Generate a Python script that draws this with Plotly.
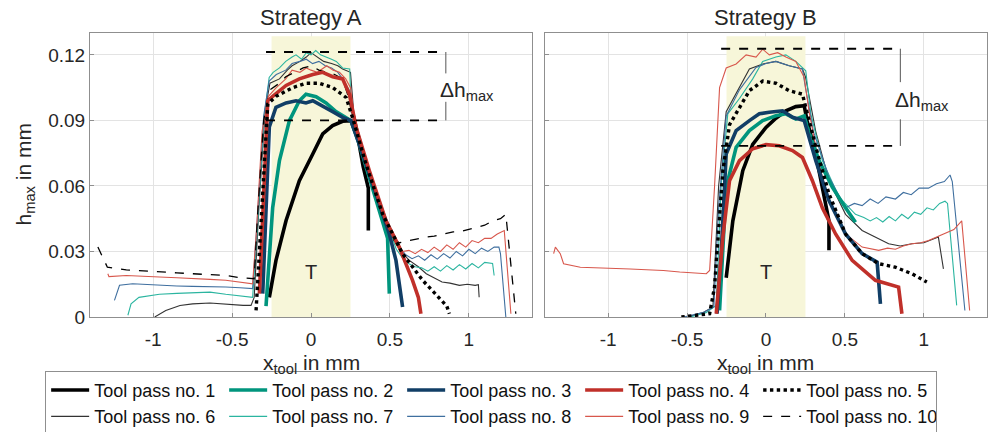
import plotly.graph_objects as go

# ---------------- Strategy A (left panel) ----------------
a1_x = [-0.264, -0.222, -0.158, -0.074, 0.011, 0.074, 0.137, 0.2, 0.253, 0.3, 0.33, 0.363, 0.363]
a1_y = [0.009, 0.0259, 0.0442, 0.0624, 0.0746, 0.0838, 0.0876, 0.0896, 0.0899, 0.081, 0.069, 0.059, 0.0396]

a2_x = [-0.285, -0.243, -0.2, -0.137, -0.074, -0.032, 0.032, 0.095, 0.158, 0.222, 0.253, 0.306, 0.39, 0.454, 0.485, 0.496]
a2_y = [0.005, 0.050, 0.0716, 0.0899, 0.099, 0.102, 0.1008, 0.098, 0.094, 0.091, 0.0899, 0.079, 0.059, 0.044, 0.036, 0.0107]

a3_x = [-0.306, -0.285, -0.264, -0.222, -0.158, -0.095, -0.032, 0.011, 0.074, 0.137, 0.2, 0.253, 0.327, 0.411, 0.496, 0.538, 0.58]
a3_y = [0.0107, 0.05, 0.087, 0.096, 0.098, 0.099, 0.098, 0.099, 0.0967, 0.094, 0.0914, 0.0899, 0.0746, 0.0564, 0.038, 0.0259, 0.0046]

a4_x = [-0.327, -0.3, -0.274, -0.243, -0.158, -0.074, 0.011, 0.074, 0.137, 0.2, 0.243, 0.285, 0.369, 0.475, 0.559, 0.643, 0.68, 0.696]
a4_y = [0.0107, 0.06, 0.099, 0.101, 0.106, 0.109, 0.111, 0.112, 0.110, 0.109, 0.102, 0.087, 0.067, 0.044, 0.032, 0.0168, 0.009, 0.0015]

a5_x = [-0.348, -0.31, -0.274, -0.222, -0.116, -0.032, 0.053, 0.137, 0.222, 0.264, 0.348, 0.454, 0.58, 0.707, 0.812, 0.86, 0.876]
a5_y = [0.003, 0.05, 0.0975, 0.101, 0.105, 0.107, 0.107, 0.105, 0.1005, 0.091, 0.070, 0.047, 0.029, 0.0168, 0.009, 0.005, 0.0015]

a6_x = [-0.99, -0.92, -0.83, -0.75, -0.64, -0.54, -0.43, -0.38, -0.36, -0.33, -0.29, -0.26, -0.2, -0.15, -0.12, -0.07,
        -0.03, 0.0, 0.04, 0.08, 0.13, 0.17, 0.2, 0.25, 0.27, 0.3, 0.35, 0.43, 0.5, 0.56, 0.62, 0.68, 0.73, 0.78, 0.83,
        0.88, 0.94, 0.99, 1.04, 1.06, 1.065]
a6_y = [0.0, 0.003, 0.0053, 0.006, 0.0064, 0.0058, 0.0053, 0.0053, 0.009, 0.05, 0.095, 0.107, 0.109, 0.113, 0.115, 0.117,
        0.119, 0.121, 0.119, 0.117, 0.116, 0.115, 0.1135, 0.112, 0.094, 0.085, 0.072, 0.052, 0.038, 0.031, 0.026, 0.023,
        0.0198, 0.018, 0.016, 0.0155, 0.0145, 0.0150, 0.0145, 0.0148, 0.009]

a7_x = [-1.16, -1.14, -1.09, -0.96, -0.85, -0.75, -0.64, -0.54, -0.45, -0.37, -0.34, -0.3, -0.265, -0.24, -0.2, -0.16,
        -0.12, -0.095, -0.06, -0.03, 0.0, 0.03, 0.06, 0.1, 0.13, 0.16, 0.2, 0.245, 0.255, 0.3, 0.35, 0.43, 0.5, 0.54,
        0.58, 0.62, 0.66, 0.7, 0.74, 0.78, 0.82, 0.86, 0.9, 0.94, 0.98, 1.02, 1.06, 1.1, 1.15, 1.16]
a7_y = [0.0008, 0.006, 0.009, 0.0104, 0.0108, 0.011, 0.0114, 0.0104, 0.0098, 0.009, 0.04, 0.09, 0.1097, 0.112, 0.114,
        0.117, 0.119, 0.120, 0.118, 0.121, 0.120, 0.122, 0.120, 0.119, 0.118, 0.117, 0.114, 0.1135, 0.094, 0.082, 0.072,
        0.054, 0.040, 0.031, 0.027, 0.0244, 0.023, 0.0225, 0.021, 0.023, 0.021, 0.0235, 0.0215, 0.024, 0.022, 0.0245,
        0.0225, 0.025, 0.0245, 0.019]

a8_x = [-1.245, -1.213, -1.13, -0.96, -0.85, -0.75, -0.64, -0.54, -0.45, -0.37, -0.34, -0.3, -0.265, -0.22, -0.16, -0.12,
        -0.07, -0.03, 0.01, 0.05, 0.09, 0.13, 0.17, 0.2, 0.24, 0.26, 0.3, 0.35, 0.43, 0.5, 0.56, 0.6, 0.64, 0.68, 0.72,
        0.76, 0.8, 0.84, 0.88, 0.92, 0.96, 1.0, 1.04, 1.08, 1.12, 1.16, 1.19, 1.2, 1.234]
a8_y = [0.0076, 0.0145, 0.0152, 0.0145, 0.0142, 0.014, 0.0140, 0.0137, 0.0134, 0.013, 0.045, 0.092, 0.108, 0.111, 0.113,
        0.116, 0.117, 0.118, 0.116, 0.117, 0.115, 0.114, 0.112, 0.109, 0.104, 0.094, 0.082, 0.072, 0.054, 0.041, 0.032,
        0.0285, 0.0267, 0.028, 0.026, 0.0285, 0.0265, 0.029, 0.027, 0.030, 0.028, 0.031, 0.029, 0.0315, 0.030, 0.032,
        0.032, 0.029, 0.0]

a9_x = [-1.287, -1.28, -1.17, -1.06, -0.96, -0.85, -0.75, -0.64, -0.54, -0.45, -0.37, -0.345, -0.31, -0.27, -0.22, -0.16,
        -0.12, -0.07, -0.03, 0.0, 0.04, 0.1, 0.14, 0.18, 0.22, 0.25, 0.27, 0.3, 0.35, 0.43, 0.5, 0.54, 0.58, 0.62, 0.66,
        0.7, 0.74, 0.78, 0.82, 0.86, 0.9, 0.94, 0.98, 1.02, 1.06, 1.1, 1.14, 1.18, 1.224, 1.266]
a9_y = [0.0198, 0.0185, 0.019, 0.0185, 0.0183, 0.018, 0.0175, 0.0172, 0.0168, 0.016, 0.0152, 0.04, 0.085, 0.101, 0.105,
        0.109, 0.113, 0.112, 0.114, 0.113, 0.112, 0.115, 0.113, 0.112, 0.109, 0.105, 0.094, 0.083, 0.072, 0.054, 0.040,
        0.033, 0.030, 0.0305, 0.029, 0.031, 0.0295, 0.032, 0.030, 0.033, 0.031, 0.034, 0.032, 0.035, 0.034, 0.036, 0.036,
        0.038, 0.0396, 0.0015]

a10_x = [-1.35, -1.33, -1.29, -1.17, -1.06, -0.96, -0.85, -0.75, -0.64, -0.54, -0.45, -0.36, -0.34, -0.3, -0.26, -0.2,
         -0.16, -0.1, -0.05, 0.0, 0.05, 0.1, 0.15, 0.2, 0.24, 0.26, 0.3, 0.35, 0.43, 0.5, 0.56, 0.62, 0.68, 0.73, 0.78,
         0.84, 0.9, 0.94, 1.0, 1.05, 1.1, 1.15, 1.2, 1.234, 1.297]
a10_y = [0.032, 0.029, 0.0228, 0.0216, 0.021, 0.0206, 0.0202, 0.0198, 0.0195, 0.019, 0.018, 0.0175, 0.045, 0.09, 0.104,
         0.107, 0.11, 0.112, 0.114, 0.115, 0.113, 0.112, 0.111, 0.109, 0.1, 0.092, 0.082, 0.072, 0.054, 0.036, 0.034,
         0.035, 0.036, 0.0366, 0.037, 0.038, 0.039, 0.039, 0.04, 0.041, 0.042, 0.044, 0.045, 0.047, 0.0015]

# ---------------- Strategy B (right panel) ----------------
b1_x = [-0.252, -0.21, -0.147, -0.084, 0.0, 0.063, 0.126, 0.189, 0.242, 0.26, 0.315, 0.357, 0.399, 0.399]
b1_y = [0.018, 0.044, 0.067, 0.079, 0.0868, 0.091, 0.0944, 0.0963, 0.0967, 0.09, 0.0746, 0.0594, 0.044, 0.0305]

b2_x = [-0.294, -0.252, -0.189, -0.105, -0.021, 0.063, 0.126, 0.189, 0.242, 0.27, 0.336, 0.42, 0.504, 0.567]
b2_y = [0.003, 0.0594, 0.0777, 0.0853, 0.0899, 0.0921, 0.093, 0.0906, 0.0921, 0.085, 0.0716, 0.0594, 0.050, 0.0434]

b3_x = [-0.31, -0.284, -0.252, -0.189, -0.105, -0.042, 0.021, 0.105, 0.168, 0.242, 0.315, 0.399, 0.504, 0.609, 0.704, 0.725]
b3_y = [0.0015, 0.029, 0.0746, 0.0853, 0.0899, 0.093, 0.0937, 0.0944, 0.0914, 0.0899, 0.0716, 0.0533, 0.038, 0.029, 0.0251, 0.006]

b4_x = [-0.315, -0.273, -0.231, -0.168, -0.084, 0.0, 0.084, 0.168, 0.231, 0.294, 0.357, 0.441, 0.546, 0.693, 0.84, 0.861]
b4_y = [0.0015, 0.0366, 0.0624, 0.0716, 0.077, 0.0789, 0.0784, 0.0762, 0.073, 0.0624, 0.050, 0.038, 0.0259, 0.0168, 0.0137, 0.0015]

b5_x = [-0.536, -0.441, -0.357, -0.326, -0.273, -0.231, -0.168, -0.105, -0.021, 0.063, 0.147, 0.231, 0.252, 0.315, 0.399,
        0.504, 0.609, 0.714, 0.819, 0.924, 1.019]
b5_y = [0.0, 0.0008, 0.0015, 0.0137, 0.067, 0.088, 0.096, 0.1036, 0.108, 0.107, 0.1036, 0.102, 0.096, 0.078, 0.0564,
        0.038, 0.029, 0.0244, 0.0228, 0.0198, 0.016]

b6_x = [-0.5, -0.4, -0.336, -0.3, -0.252, -0.168, -0.105, -0.021, 0.063, 0.147, 0.231, 0.25, 0.315, 0.399, 0.504, 0.609,
        0.777, 0.85, 0.924, 1.0, 1.092, 1.124]
b6_y = [0.0, 0.002, 0.0046, 0.06, 0.094, 0.105, 0.1135, 0.1158, 0.117, 0.115, 0.1135, 0.11, 0.085, 0.0624, 0.047, 0.0396,
        0.0335, 0.0325, 0.0335, 0.034, 0.0366, 0.022]

b7_x = [-0.48, -0.38, -0.315, -0.284, -0.242, -0.168, -0.084, -0.021, 0.063, 0.126, 0.189, 0.252, 0.284, 0.357, 0.462,
        0.567, 0.62, 0.66, 0.7, 0.74, 0.78, 0.82, 0.86, 0.9, 0.94, 0.98, 1.02, 1.06, 1.1, 1.134, 1.15, 1.208]
b7_y = [0.0, 0.002, 0.0053, 0.06, 0.093, 0.100, 0.109, 0.117, 0.119, 0.120, 0.117, 0.1127, 0.093, 0.0716, 0.055, 0.047,
        0.0455, 0.044, 0.0455, 0.0435, 0.046, 0.044, 0.047, 0.045, 0.048, 0.047, 0.05, 0.049, 0.052, 0.053, 0.052, 0.0053]

b8_x = [-0.52, -0.4, -0.33, -0.3, -0.252, -0.168, -0.063, 0.0, 0.063, 0.147, 0.231, 0.25, 0.3, 0.4, 0.504, 0.56, 0.609,
        0.66, 0.71, 0.76, 0.82, 0.87, 0.92, 0.97, 1.029, 1.08, 1.13, 1.166, 1.18, 1.26]
b8_y = [0.0, 0.002, 0.0046, 0.05, 0.092, 0.104, 0.1142, 0.116, 0.117, 0.115, 0.1135, 0.105, 0.085, 0.064, 0.050, 0.052,
        0.051, 0.054, 0.052, 0.055, 0.054, 0.057, 0.056, 0.059, 0.059, 0.061, 0.062, 0.065, 0.062, 0.003]

b9_x = [-1.345, -1.334, -1.303, -1.282, -1.176, -1.07, -0.966, -0.86, -0.756, -0.65, -0.546, -0.45, -0.378, -0.357,
        -0.326, -0.294, -0.252, -0.189, -0.126, -0.063, -0.021, 0.021, 0.074, 0.126, 0.189, 0.242, 0.273, 0.336, 0.399,
        0.504, 0.609, 0.714, 0.77, 0.82, 0.87, 0.924, 0.98, 1.03, 1.08, 1.134, 1.19, 1.24, 1.29]
b9_y = [0.029, 0.032, 0.029, 0.0244, 0.0228, 0.0226, 0.0225, 0.022, 0.0216, 0.0213, 0.0206, 0.020, 0.0198, 0.0213,
        0.0594, 0.105, 0.114, 0.1158, 0.120, 0.119, 0.1226, 0.120, 0.121, 0.119, 0.117, 0.1097, 0.094, 0.070, 0.053,
        0.038, 0.032, 0.0305, 0.0315, 0.031, 0.0325, 0.0335, 0.034, 0.035, 0.0365, 0.038, 0.040, 0.044, 0.003]

b10_x = []
b10_y = []

names = ["Tool pass no. %d" % i for i in range(1, 11)]
colors = ["#000000", "#00957d", "#113e66", "#c0302a", "#000000",
          "#333333", "#2bb5a0", "#3f6f9f", "#d8574c", "#000000"]
widths = [3.6, 3.6, 3.6, 3.6, 3.4, 1.1, 1.1, 1.1, 1.1, 1.3]
dashes = ["solid", "solid", "solid", "solid", "dot", "solid", "solid", "solid", "solid", "dash"]

A = [(a1_x, a1_y), (a2_x, a2_y), (a3_x, a3_y), (a4_x, a4_y), (a5_x, a5_y),
     (a6_x, a6_y), (a7_x, a7_y), (a8_x, a8_y), (a9_x, a9_y), (a10_x, a10_y)]
B = [(b1_x, b1_y), (b2_x, b2_y), (b3_x, b3_y), (b4_x, b4_y), (b5_x, b5_y),
     (b6_x, b6_y), (b7_x, b7_y), (b8_x, b8_y), (b9_x, b9_y), (b10_x, b10_y)]

fig = go.Figure()
draw_order = [5, 6, 7, 8, 9, 0, 1, 2, 3, 4]
for i in draw_order:
    fig.add_trace(go.Scatter(x=A[i][0], y=A[i][1], mode="lines", name=names[i], legendgroup=names[i],
                             legendrank=i + 1,
                             line=dict(color=colors[i], width=widths[i], dash=dashes[i]),
                             xaxis="x", yaxis="y"))
for i in draw_order:
    fig.add_trace(go.Scatter(x=B[i][0], y=B[i][1], mode="lines", name=names[i], legendgroup=names[i],
                             showlegend=False,
                             line=dict(color=colors[i], width=widths[i], dash=dashes[i]),
                             xaxis="x2", yaxis="y2"))

FONT = "Liberation Sans, Arial, sans-serif"
TXT = "#262626"
GRID = "#e3e3e3"
AXL = "#8f8f8f"

tickvals_x = [-1, -0.5, 0, 0.5, 1]
ticktext_x = ["-1", "-0.5", "0", "0.5", "1"]
tickvals_y = [0, 0.03, 0.06, 0.09, 0.12]
ticktext_y = ["0", "0.03", "0.06", "0.09", "0.12"]

xcommon = dict(range=[-1.4, 1.4], tickvals=tickvals_x, ticktext=ticktext_x, showgrid=True, gridcolor=GRID,
               showline=True, linecolor=AXL, mirror=True, ticks="inside", ticklen=4, tickcolor=AXL,
               zeroline=False, ticklabelstandoff=5, tickfont=dict(size=19, color=TXT, family=FONT))
ycommon = dict(range=[0, 0.13], tickvals=tickvals_y, showgrid=True, gridcolor=GRID,
               showline=True, linecolor=AXL, mirror=True, ticks="inside", ticklen=4, tickcolor=AXL,
               zeroline=False, tickfont=dict(size=19, color=TXT, family=FONT))

fig.update_layout(
    width=988, height=432,
    margin=dict(l=90, r=1, t=33, b=115, autoexpand=False),
    paper_bgcolor="white", plot_bgcolor="white",
    font=dict(family=FONT, color=TXT),
    xaxis=dict(domain=[0, 0.4928], anchor="y", **xcommon),
    yaxis=dict(domain=[0, 1], anchor="x", ticktext=ticktext_y, **ycommon),
    xaxis2=dict(domain=[0.5072, 1], anchor="y2", **xcommon),
    yaxis2=dict(domain=[0, 1], anchor="x2", showticklabels=False, **ycommon),
    legend=dict(orientation="h", x=-0.05, xanchor="left", y=-0.1895, yanchor="top",
                bordercolor="#8f8f8f", borderwidth=1, bgcolor="white",
                font=dict(size=18, color="#111111", family=FONT),
                entrywidth=125, entrywidthmode="pixels", itemwidth=38, traceorder="normal"),
    showlegend=True,
)

shapes = []
for xr, yr in (("x", "y"), ("x2", "y2")):
    shapes.append(dict(type="rect", xref=xr, yref=yr, x0=-0.25, x1=0.25, y0=0, y1=0.1285,
                       fillcolor="#f7f6d9", line=dict(width=0), layer="between"))

dh = [("x", "y", -0.285, 0.854, 0.1213, 0.090, 0.1115, 0.0985),
      ("x2", "y2", -0.284, 0.851, 0.1228, 0.0783, 0.1075, 0.0905)]
for xr, yr, xa, xb, ytop, ybot, gtop, gbot in dh:
    shapes.append(dict(type="line", xref=xr, yref=yr, x0=xa, x1=xb, y0=ytop, y1=ytop,
                       line=dict(color="black", width=1.8, dash="dash"), layer="above"))
    shapes.append(dict(type="line", xref=xr, yref=yr, x0=xa, x1=xb, y0=ybot, y1=ybot,
                       line=dict(color="black", width=1.8, dash="dash"), layer="above"))
    shapes.append(dict(type="line", xref=xr, yref=yr, x0=xb, x1=xb, y0=ytop, y1=gtop,
                       line=dict(color="#555555", width=1), layer="above"))
    shapes.append(dict(type="line", xref=xr, yref=yr, x0=xb, x1=xb, y0=gbot, y1=ybot,
                       line=dict(color="#555555", width=1), layer="above"))
fig.update_layout(shapes=shapes)

ann = []
for xr, t in (("x domain", "Strategy A"), ("x2 domain", "Strategy B")):
    ann.append(dict(text=t, xref=xr, yref="paper", x=0.5, y=1.054, showarrow=False,
                    font=dict(size=22, color=TXT), xanchor="center", yanchor="middle"))
    ann.append(dict(text="x<sub>tool</sub> in mm", xref=xr, yref="paper", x=0.5, y=-0.167, showarrow=False,
                    font=dict(size=21, color=TXT), xanchor="center", yanchor="middle"))
ann.append(dict(text="h<sub>max</sub> in mm", xref="paper", yref="paper", x=-0.073, y=0.5, showarrow=False,
                textangle=-90, font=dict(size=21, color=TXT), xanchor="center", yanchor="middle"))
for xr, yr in (("x", "y"), ("x2", "y2")):
    ann.append(dict(text="T", xref=xr, yref=yr, x=0, y=0.0205, showarrow=False,
                    font=dict(size=20, color=TXT), xanchor="center", yanchor="middle"))
ann.append(dict(text="Δh<sub>max</sub>", xref="x", yref="y", x=0.99, y=0.1035, showarrow=False,
                font=dict(size=21, color=TXT), xanchor="center", yanchor="middle"))
ann.append(dict(text="Δh<sub>max</sub>", xref="x2", yref="y2", x=0.99, y=0.099, showarrow=False,
                font=dict(size=21, color=TXT), xanchor="center", yanchor="middle"))
fig.update_layout(annotations=ann)

fig.write_html("out.html")
